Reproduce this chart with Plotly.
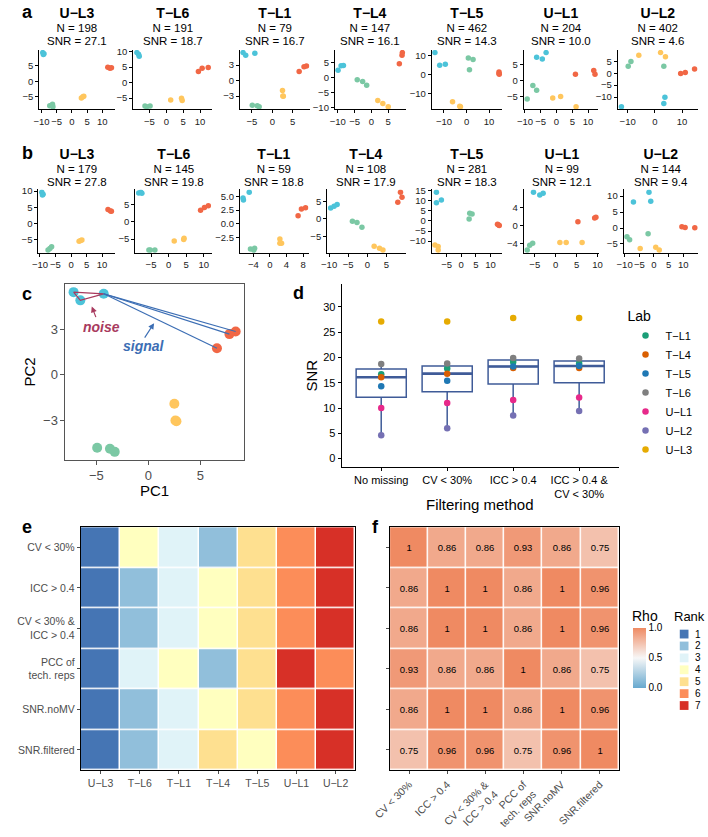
import numpy as np
import plotly.graph_objects as go

W, H = 708, 837
FONT = "Liberation Sans, Arial, Helvetica, sans-serif"
GREY = "#4D4D4D"

# ---------------- panels a & b : PCA per lab ----------------
ab_labs = ["U−L3", "T−L6", "T−L1", "T−L4", "T−L5", "U−L1", "U−L2"]
a_N = [198, 191, 79, 147, 462, 204, 402]
a_SNR = [27.1, 18.7, 16.7, 16.1, 14.3, 10.0, 4.6]
b_N = [179, 145, 59, 108, 281, 99, 144]
b_SNR = [27.8, 19.8, 18.8, 17.9, 18.3, 12.1, 9.4]

SAMPLES = ["D5", "D6", "F7", "M8"]
SAMPLE_COLORS = ["#4CC3D9", "#7BC8A4", "#FFC65D", "#F16745"]

a_D5_x = [[-9.6, -9.2, -9.4], [-8.7, -8.2, -8.0], [-7.2, -6.55, -4.3], [-9.9, -9.0, -8.3],
          [-14.0, -11.9, -9.4], [-6.3, -4.5, -3.3], [-12.3, 3.3, 3.7]]
a_D5_y = [[9.2, 8.8, 8.6], [9.7, 9.2, 8.5], [5.44, 4.9, 5.33], [2.4, 3.9, 4.0],
          [11.7, 5.0, 5.5], [7.3, 6.8, 8.8], [-14.0, -12.7, -10.0]]
a_D6_x = [[-7.3, -6.4, -6.25], [-6.3, -5.8, -4.8], [-4.93, -3.7, -3.24], [-4.2, -2.6, -1.4],
          [0.8, 2.9, 1.3], [-7.5, -6.3, -9.3], [-9.8, -8.8, 3.3]]
a_D6_y = [[-7.9, -7.4, -8.2], [-7.6, -7.8, -7.6], [-4.79, -4.85, -5.06], [-0.7, -1.3, -2.6],
          [8.8, 8.0, 2.5], [-1.5, -3.0, -5.8], [2.9, 4.9, 2.9]]
a_F7_x = [[3.1, 3.6, 3.9], [1.3, 4.5, 4.7], [2.5, 2.6, 2.7], [1.9, 3.4, 5.0],
          [-6.2, -2.7, -3.0], [-1.2, 1.3, 6.2], [-5.9, 2.1, 3.9]]
a_F7_y = [[-5.4, -5.0, -4.8], [-5.6, -5.1, -5.8], [-1.9, -3.0, -3.05], [-7.6, -8.6, -9.7],
          [-14.5, -17.2, -17.0], [-5.5, -5.0, -8.2], [7.5, 8.6, 6.9]]
a_M8_x = [[11.8, 12.5, 13.0], [9.5, 10.6, 12.4], [8.4, 7.8, 6.6], [8.3, 9.1, 9.2],
          [14.4, 14.4, 14.5], [6.0, 11.8, 12.2], [9.5, 11.2, 14.6]]
a_M8_y = [[4.5, 4.2, 4.3], [3.6, 4.6, 4.9], [2.85, 2.68, 1.75], [4.6, 7.4, 8.3],
          [1.3, 0.5, 0.2], [2.0, 3.2, 2.0], [-0.1, 0.3, 1.7]]

b_D5_x = [[-9.4, -9.0, -9.2], [-8.5, -7.9, -7.6], [-6.5, -6.4, -5.0], [-9.6, -8.7, -7.9],
          [-8.5, -8.5, -6.8], [-5.3, -3.8, -3.0], [-7.0, -1.7, -1.1]]
b_D5_y = [[9.6, 9.0, 8.8], [8.4, 8.6, 8.3], [4.7, 4.3, 5.7], [3.1, 3.6, 4.1],
          [14.2, 9.1, 10.4], [7.5, 6.9, 7.3], [8.2, 11.2, 8.4]]
b_D6_x = [[-7.4, -6.8, -6.25], [-5.6, -5.2, -3.9], [-4.7, -3.7, -3.9], [-3.9, -2.7, -1.4],
          [2.9, 3.7, 2.7], [-6.8, -6.2, -5.5], [-9.2, -8.3, -2.0]]
b_D6_y = [[-8.1, -7.6, -7.1], [-8.2, -8.2, -8.2], [-4.5, -4.4, -4.7], [-0.7, -1.0, -2.4],
          [3.8, 3.5, 1.0], [-5.5, -4.4, -4.0], [-2.7, -3.7, -1.8]]
b_F7_x = [[2.6, 3.1, 3.5], [1.6, 4.3, 4.4], [2.4, 2.4, 2.8], [1.8, 3.2, 4.1],
          [-9.0, -7.9, -7.9], [1.0, 2.5, 6.3], [-4.7, 0.6, 1.8]]
b_F7_y = [[-5.4, -5.2, -5.0], [-5.6, -5.1, -4.8], [-2.7, -3.5, -3.5], [-7.8, -8.4, -8.9],
          [-11.9, -12.7, -14.4], [-3.8, -3.8, -3.8], [-6.4, -6.0, -6.9]]
b_M8_x = [[11.9, 12.7, 13.0], [9.1, 10.2, 11.3], [6.8, 7.6, 8.6], [8.7, 9.1, 8.0],
          [12.4, 13.0, 12.8], [5.3, 9.3, 9.6], [9.5, 10.6, 13.9]]
b_M8_y = [[4.3, 3.9, 3.8], [3.4, 4.2, 4.7], [1.5, 2.7, 2.9], [7.6, 6.2, 4.8],
          [-1.6, -2.3, -2.0], [0.9, 1.7, 1.9], [0.4, 0.2, 0.1]]

a_xticks = [[-10, -5, 0, 5, 10], [-5, 0, 5, 10], [-5, 0, 5], [-10, -5, 0, 5],
            [-10, 0, 10], [-10, -5, 0, 5, 10], [-10, 0, 10]]
a_yticks = [[-5, 0, 5], [-5, 0, 5, 10], [-3, 0, 3], [-10, -5, 0, 5],
            [-10, 0, 10], [-5, 0, 5], [-10, -5, 0, 5]]
b_xticks = [[-10, -5, 0, 5, 10], [-5, 0, 5, 10], [-4, 0, 4, 8], [-10, -5, 0, 5],
            [-5, 0, 5, 10], [-5, 0, 5, 10], [-10, -5, 0, 5, 10]]
b_yticks = [[-5, 0, 5, 10], [-5, 0, 5], [-2.5, 0, 2.5, 5], [-5, 0, 5],
            [-10, -5, 0, 5, 10, 15], [-4, 0, 4], [-5, 0, 5, 10]]
b_yfmt = [None, None, ".1f", None, None, None, None]

# ---------------- panel c (T-L1 example) ----------------
c_ticks_x = [-5, 0, 5]
c_ticks_y = [-3, 0, 3]

# ---------------- panel d ----------------
d_methods = ["No missing", "CV < 30%", "ICC > 0.4", "ICC > 0.4 &<br>CV < 30%"]
d_labs = ["T−L1", "T−L4", "T−L5", "T−L6", "U−L1", "U−L2", "U−L3"]
d_lab_colors = ["#1B9E77", "#D95F02", "#1F78B4", "#7F7F7F", "#E7298A", "#7570B3", "#E6AB02"]
snr_TL1 = [16.7, 17.8, 19.1, 18.8]
snr_TL4 = [16.1, 16.8, 17.9, 17.9]
snr_TL5 = [14.3, 15.4, 18.2, 18.3]
snr_TL6 = [18.7, 18.8, 19.9, 19.8]
snr_UL1 = [10.0, 11.0, 11.6, 12.1]
snr_UL2 = [4.6, 6.0, 8.5, 9.4]
snr_UL3 = [27.1, 27.1, 27.8, 27.8]
d_yticks = [0, 5, 10, 15, 20, 25, 30]

# ---------------- panel e ----------------
e_rows = ["CV < 30%", "ICC > 0.4", "CV < 30% &<br>ICC > 0.4", "PCC of<br>tech. reps", "SNR.noMV", "SNR.filtered"]
e_cols = ["U−L3", "T−L6", "T−L1", "T−L4", "T−L5", "U−L1", "U−L2"]
e_rank = [[1, 4, 3, 2, 5, 6, 7],
          [1, 2, 3, 4, 5, 6, 7],
          [1, 2, 3, 4, 5, 6, 7],
          [1, 3, 4, 2, 5, 7, 6],
          [1, 2, 3, 4, 5, 6, 7],
          [1, 2, 3, 5, 4, 6, 7]]
rank_levels = [1, 2, 3, 4, 5, 6, 7]
rank_colors = ["#4575B4", "#91BFDB", "#E0F3F8", "#FFFFBF", "#FEE090", "#FC8D59", "#D73027"]

# ---------------- panel f ----------------
f_labels = ["CV < 30%", "ICC > 0.4", "CV < 30% &<br>ICC > 0.4", "PCC of<br>tech. reps", "SNR.noMV", "SNR.filtered"]
f_rho = [[1, 0.86, 0.86, 0.93, 0.86, 0.75],
         [0.86, 1, 1, 0.86, 1, 0.96],
         [0.86, 1, 1, 0.86, 1, 0.96],
         [0.93, 0.86, 0.86, 1, 0.86, 0.75],
         [0.86, 1, 1, 0.86, 1, 0.96],
         [0.75, 0.96, 0.96, 0.75, 0.96, 1]]
rho_ticks = [0.0, 0.5, 1.0]

# =====================================================================
fig = go.Figure()
layout = {}
annotations = []
shapes = []
counter = [0]


def px_x(p):
    return p / W


def px_y(p):
    return 1 - p / H


def new_axes(xd, yd, xcfg, ycfg):
    counter[0] += 1
    n = counter[0]
    s = "" if n == 1 else str(n)
    layout["xaxis" + s] = dict(domain=[xd[0] / W, xd[1] / W], anchor="y" + s, **xcfg)
    layout["yaxis" + s] = dict(domain=[1 - yd[1] / H, 1 - yd[0] / H], anchor="x" + s, **ycfg)
    return "x" + s, "y" + s


def ann(text, x, y, size, color="black", xanchor="center", yanchor="middle", angle=0):
    annotations.append(dict(text=text, x=px_x(x), y=px_y(y), xref="paper", yref="paper",
                            showarrow=False, font=dict(size=size, color=color, family=FONT),
                            xanchor=xanchor, yanchor=yanchor, textangle=angle, borderpad=0))


def expand(vals):
    lo, hi = min(vals), max(vals)
    pad = 0.05 * (hi - lo)
    return [lo - pad, hi + pad]


def small_axis(rng, ticks, fmt=None):
    d = dict(range=rng, tickvals=ticks, showline=True, linecolor="black", linewidth=1,
             ticks="outside", ticklen=3, tickwidth=1, tickcolor="black", showgrid=False,
             zeroline=False, tickangle=0, tickfont=dict(size=9.5, color="#222222", family=FONT))
    if fmt:
        d["tickformat"] = fmt
    return d


def pca_row(xs_list, ys_list, xdoms, ydom, xticks, yticks, yfmts, N, SNR, ty):
    for i in range(7):
        allx = sum([xs[i] for xs in xs_list], [])
        ally = sum([ys[i] for ys in ys_list], [])
        xa, ya = new_axes(xdoms[i], ydom, small_axis(expand(allx), xticks[i]),
                          small_axis(expand(ally), yticks[i], yfmts[i]))
        for k in range(4):
            fig.add_trace(go.Scatter(x=xs_list[k][i], y=ys_list[k][i], mode="markers",
                                     marker=dict(size=5.5, color=SAMPLE_COLORS[k]),
                                     showlegend=False, xaxis=xa, yaxis=ya, hoverinfo="skip"))
        cx = (xdoms[i][0] + xdoms[i][1]) / 2
        txt = (f"<span style='font-size:14px'><b>{ab_labs[i]}</b></span><br>"
               f"<span style='font-size:11.5px'>N = {N[i]}</span><br>"
               f"<span style='font-size:11.5px'>SNR = {SNR[i]:.1f}</span>")
        ann(txt, cx, ty, 10.4)


a_xdom = [(22, 100), (119, 200), (229, 301), (327, 400), (427, 500), (522, 599), (619, 702)]
b_xdom = [(21, 100), (121, 200), (229, 300), (319, 400), (427, 500), (522, 600), (625, 702)]

pca_row([a_D5_x, a_D6_x, a_F7_x, a_M8_x], [a_D5_y, a_D6_y, a_F7_y, a_M8_y],
        a_xdom, (47, 108), a_xticks, a_yticks, [None] * 7, a_N, a_SNR, 22.5)
pca_row([b_D5_x, b_D6_x, b_F7_x, b_M8_x], [b_D5_y, b_D6_y, b_F7_y, b_M8_y],
        b_xdom, (190, 255), b_xticks, b_yticks, b_yfmt, b_N, b_SNR, 166.5)

# ---------------- panel c ----------------
ci = ab_labs.index("T−L1")
c_x = [a_D5_x[ci], a_D6_x[ci], a_F7_x[ci], a_M8_x[ci]]
c_y = [a_D5_y[ci], a_D6_y[ci], a_F7_y[ci], a_M8_y[ci]]
c_cfg = dict(showline=True, mirror=True, linecolor="#555555", linewidth=1, ticks="outside",
             ticklen=4, tickcolor="#555555", showgrid=False, zeroline=False,
             tickfont=dict(size=13, color=GREY, family=FONT))
xa, ya = new_axes((49, 233), (287, 467),
                  dict(range=expand(sum(c_x, [])), tickvals=c_ticks_x, **c_cfg),
                  dict(range=expand(sum(c_y, [])), tickvals=c_ticks_y, **c_cfg))
for k in range(4):
    fig.add_trace(go.Scatter(x=c_x[k], y=c_y[k], mode="markers",
                             marker=dict(size=10, color=SAMPLE_COLORS[k]),
                             showlegend=False, xaxis=xa, yaxis=ya, hoverinfo="skip"))
NOISE = "#A83A5E"
SIGNAL = "#3C6EB4"
fig.add_trace(go.Scatter(x=c_x[0] + [c_x[0][0]], y=c_y[0] + [c_y[0][0]], mode="lines",
                         line=dict(color=NOISE, width=1.2), showlegend=False,
                         xaxis=xa, yaxis=ya, hoverinfo="skip"))
for j in range(3):
    fig.add_trace(go.Scatter(x=[c_x[0][2], c_x[3][j]], y=[c_y[0][2], c_y[3][j]], mode="lines",
                             line=dict(color=SIGNAL, width=1.2), showlegend=False,
                             xaxis=xa, yaxis=ya, hoverinfo="skip"))
annotations.append(dict(x=-5.45, y=4.5, ax=-5.0, ay=3.7, xref=xa, yref=ya, axref=xa, ayref=ya,
                        showarrow=True, arrowhead=2, arrowsize=1, arrowwidth=1.2,
                        arrowcolor=NOISE, text=""))
annotations.append(dict(x=0.55, y=3.4, ax=-0.45, ay=2.35, xref=xa, yref=ya, axref=xa, ayref=ya,
                        showarrow=True, arrowhead=2, arrowsize=1, arrowwidth=1.2,
                        arrowcolor=SIGNAL, text=""))
annotations.append(dict(x=-4.5, y=3.15, xref=xa, yref=ya, showarrow=False,
                        text="<b><i>noise</i></b>", font=dict(size=14, color=NOISE, family=FONT)))
annotations.append(dict(x=-0.45, y=1.9, xref=xa, yref=ya, showarrow=False,
                        text="<b><i>signal</i></b>", font=dict(size=14, color=SIGNAL, family=FONT)))
ann("PC1", 141, 498, 15)
ann("PC2", 12, 377, 15, angle=-90)

# ---------------- panel d ----------------
d_vals = np.array([snr_TL1, snr_TL4, snr_TL5, snr_TL6, snr_UL1, snr_UL2, snr_UL3])
q1 = np.percentile(d_vals, 25, axis=0)
med = np.percentile(d_vals, 50, axis=0)
q3 = np.percentile(d_vals, 75, axis=0)
iqr = q3 - q1
lo_f, hi_f, out_x, out_y = [], [], [], []
for m in range(len(d_methods)):
    col = d_vals[:, m]
    ok = (col >= q1[m] - 1.5 * iqr[m]) & (col <= q3[m] + 1.5 * iqr[m])
    lo_f.append(col[ok].min())
    hi_f.append(col[ok].max())
    out_x += [m] * int((~ok).sum())
    out_y += list(col[~ok])

d_axis = dict(showline=True, linecolor="black", linewidth=1, ticks="outside", ticklen=3,
              tickcolor="black", showgrid=False, zeroline=False,
              tickfont=dict(size=11, color="black", family=FONT))
xa, ya = new_axes((334, 620), (287, 474),
                  dict(range=[-0.6, 3.6], tickvals=list(range(len(d_methods))),
                       ticktext=d_methods, **d_axis),
                  dict(range=[-1.6, 34.5], tickvals=d_yticks, **d_axis))
BOXC = "#3F5B98"
BOXW = 0.76
fig.add_trace(go.Box(x=list(range(len(d_methods))), q1=q1, median=med, q3=q3,
                     lowerfence=lo_f, upperfence=hi_f, width=BOXW, fillcolor="white",
                     line=dict(color=BOXC, width=1.5), whiskerwidth=0, boxpoints=False,
                     showlegend=False, xaxis=xa, yaxis=ya, hoverinfo="skip"))
mx, my = [], []
for m in range(len(d_methods)):
    mx += [m - BOXW / 2, m + BOXW / 2, None]
    my += [med[m], med[m], None]
fig.add_trace(go.Scatter(x=mx, y=my, mode="lines", line=dict(color=BOXC, width=2.6),
                         showlegend=False, xaxis=xa, yaxis=ya, hoverinfo="skip"))
fig.add_trace(go.Scatter(x=out_x, y=out_y, mode="markers", marker=dict(size=3, color="black"),
                         showlegend=False, xaxis=xa, yaxis=ya, hoverinfo="skip"))
for i, lab in enumerate(d_labs):
    fig.add_trace(go.Scatter(x=list(range(len(d_methods))), y=d_vals[i], mode="markers",
                             name=lab, marker=dict(size=6.5, color=d_lab_colors[i]),
                             xaxis=xa, yaxis=ya, showlegend=True))
ann("SNR", 303, 381, 15, angle=-90)
ann("Filtering method", 477, 513, 15)

# ---------------- panel e ----------------
ncol, nrow = len(e_cols), len(e_rows)
cs = []
for i, c in enumerate(rank_colors):
    cs += [[i / len(rank_colors), c], [(i + 1) / len(rank_colors), c]]
hm_axis = dict(showline=True, mirror=True, linecolor="black", linewidth=1.3, ticks="outside",
               ticklen=3, tickcolor=GREY, showgrid=False, zeroline=False,
               tickfont=dict(size=10.5, color=GREY, family=FONT))
xa, ya = new_axes((65, 348), (536, 785),
                  dict(range=[-0.5, ncol - 0.5], tickvals=list(range(ncol)), ticktext=e_cols, **hm_axis),
                  dict(range=[nrow - 0.5, -0.5], tickvals=list(range(nrow)), ticktext=e_rows, **hm_axis))
fig.add_trace(go.Heatmap(z=e_rank, x=list(range(ncol)), y=list(range(nrow)), colorscale=cs,
                         zmin=0.5, zmax=7.5, showscale=False, xgap=1.5, ygap=1.5,
                         xaxis=xa, yaxis=ya, hoverinfo="skip"))

# ---------------- panel f ----------------
nf = len(f_labels)
f_text = [[f"{v:g}" for v in row] for row in f_rho]
xa, ya = new_axes((384, 620), (536, 785),
                  dict(range=[-0.5, nf - 0.5], tickvals=list(range(nf)), ticktext=f_labels,
                       tickangle=-45, **hm_axis),
                  dict(range=[nf - 0.5, -0.5], tickvals=list(range(nf)), showticklabels=False,
                       **hm_axis))
fig.add_trace(go.Heatmap(z=f_rho, x=list(range(nf)), y=list(range(nf)), text=f_text,
                         texttemplate="%{text}", textfont=dict(size=9.5, color="black", family=FONT),
                         colorscale=[[0, "#67A9CF"], [0.5, "#F7F7F7"], [1, "#EF8A62"]],
                         zmin=0, zmax=1, xgap=1.5, ygap=1.5, xaxis=xa, yaxis=ya, hoverinfo="skip",
                         colorbar=dict(x=635 / W, xanchor="left", y=1 - 670 / H, yanchor="middle",
                                       lenmode="pixels", len=60, thickness=13, ypad=0, xpad=0,
                                       outlinewidth=0, tickvals=rho_ticks, tickformat=".1f",
                                       ticks="", tickfont=dict(size=10, color="black", family=FONT))))
ann("Rho", 633, 627, 14, xanchor="left")
ann("Rank", 676, 627, 13, xanchor="left")
for i, lvl in enumerate(rank_levels):
    top = 641 + i * 12.2
    shapes.append(dict(type="rect", xref="paper", yref="paper", x0=px_x(683), x1=px_x(692),
                       y0=px_y(top + 9), y1=px_y(top), fillcolor=rank_colors[i], line=dict(width=0)))
    ann(str(lvl), 698, top + 4.5, 10, xanchor="left")

# ---------------- panel letters ----------------
for letter, x, y in [("a", 3, 8), ("b", 3, 153), ("c", 3, 297), ("d", 283, 296), ("e", 3, 536), ("f", 364, 536)]:
    ann("<b>" + letter + "</b>", x, y, 18, xanchor="left")

layout.update(dict(
    width=W, height=H, autosize=False,
    margin=dict(l=0, r=0, t=0, b=0),
    paper_bgcolor="white", plot_bgcolor="white",
    font=dict(family=FONT, color="black"),
    annotations=annotations, shapes=shapes,
    legend=dict(x=627 / W, y=1 - 306 / H, xanchor="left", yanchor="top",
                title=dict(text="Lab", font=dict(size=14, family=FONT)),
                font=dict(size=11, family=FONT), bgcolor="rgba(0,0,0,0)", tracegroupgap=0),
))
fig.update_layout(**layout)
fig.write_html("out.html", config={"displayModeBar": False},
               post_script="document.body.style.margin='0';")
